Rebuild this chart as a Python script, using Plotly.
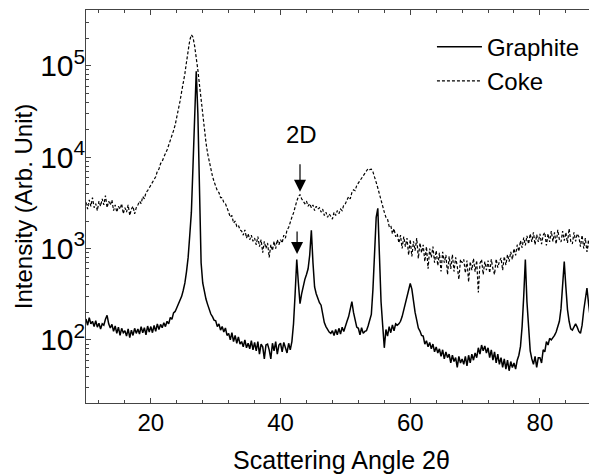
import numpy as np
import plotly.graph_objects as go

# Scan grid (degrees 2-theta), 0.25 deg step
angle_start = 10.0
angle_step = 0.25
n_points = 316
scan_angle = [round(angle_start + angle_step * i, 2) for i in range(n_points)]

# Intensities (arb. unit)
graphite = [
    170, 145, 175, 150, 160, 140, 162, 138,
    152, 132, 150, 145, 168, 186, 150, 135,
    148, 124, 142, 118, 138, 112, 134, 120,
    126, 110, 132, 106, 128, 112, 134, 118,
    132, 116, 140, 120, 136, 114, 142, 122,
    140, 120, 144, 124, 150, 130, 148, 136,
    154, 140, 160, 150, 176, 168, 198, 205,
    225, 245, 270, 300, 350, 420, 560, 800,
    1400, 2500, 8000, 35000, 87000, 30000, 4000, 700,
    420, 330, 280, 245, 215, 192, 180, 165,
    162, 140, 150, 128, 140, 122, 135, 112,
    118, 100, 120, 96, 112, 92, 108, 90,
    96, 84, 100, 82, 92, 80, 98, 78,
    94, 76, 96, 70, 90, 84, 62, 88,
    90, 78, 62, 92, 76, 96, 70, 88,
    92, 74, 94, 80, 72, 92, 78, 96,
    150, 320, 760, 420, 250, 320, 400, 460,
    520, 600, 850, 1580, 700, 380, 320, 280,
    255, 240, 185, 155, 140, 128, 122, 118,
    126, 112, 130, 114, 134, 116, 138, 124,
    145, 160, 180, 220, 262, 200, 160, 138,
    134, 114, 136, 118, 124, 126, 142, 160,
    190, 360, 970, 2200, 2750, 850, 260, 145,
    82, 130, 110, 140, 120, 146, 126, 150,
    145, 150, 160, 180, 210, 245, 290, 350,
    415, 360, 260, 200, 165, 135, 125, 112,
    110, 90, 98, 84, 94, 80, 90, 74,
    84, 72, 80, 66, 78, 62, 74, 64,
    70, 56, 68, 58, 64, 50, 66, 56,
    62, 54, 66, 52, 68, 56, 70, 60,
    72, 64, 82, 70, 88, 76, 86, 72,
    82, 64, 78, 60, 74, 56, 70, 54,
    64, 50, 62, 48, 60, 46, 58, 50,
    56, 48, 60, 68, 85, 140, 300, 760,
    260, 120, 76, 62, 54, 66, 50, 64,
    64, 56, 78, 74, 96, 88, 104, 100,
    105, 112, 122, 140, 160, 220, 360, 720,
    380, 215, 160, 132, 128, 140, 150, 138,
    124, 118, 145, 210, 290, 370, 250, 175,
    120, 90, 78, 82,
]

coke = [
    3200, 2700, 3400, 2900, 3600, 2800, 3100, 2600,
    3300, 2900, 3500, 3000, 3800, 2800, 3300, 3000,
    3400, 2600, 3000, 2500, 2900, 2700, 3100, 2400,
    2800, 2500, 3000, 2300, 2700, 2900, 2400, 2800,
    3000, 3300, 3100, 3700, 3500, 4100, 4300, 4600,
    5100, 5300, 5800, 6100, 7000, 7400, 8500, 9000,
    10000, 10800, 12000, 13500, 15000, 17000, 19500, 22500,
    27000, 33000, 41000, 52000, 64000, 82000, 110000, 145000,
    190000, 218000, 205000, 165000, 125000, 90000, 62000, 42000,
    30000, 21000, 14500, 11000, 8800, 7200, 6200, 5400,
    4900, 4300, 4100, 3600, 3600, 3200, 3100, 2700,
    2500, 2200, 2300, 1900, 2000, 1750, 1800, 1600,
    1550, 1400, 1600, 1300, 1450, 1250, 1400, 1200,
    1300, 1100, 1350, 1050, 1250, 900, 1200, 1000,
    1150, 800, 1100, 950, 1200, 1000, 1250, 1100,
    1250, 1150, 1400, 1300, 1600, 1700, 2000, 2200,
    2450, 2900, 3300, 3700, 3900, 3500, 3300, 3100,
    3300, 2900, 3100, 2800, 3000, 2600, 2900, 2700,
    2800, 2500, 2700, 2300, 2500, 2200, 2400, 2250,
    2100, 2500, 2300, 2600, 2400, 2700, 2600, 3000,
    3100, 3400, 3700, 3500, 4100, 4400, 4300, 4900,
    5200, 5600, 6000, 6400, 6600, 7200, 7500, 7300,
    7400, 6900, 6200, 5300, 4600, 3900, 3300, 2800,
    2500, 2200, 2100, 1750, 1800, 1450, 1650, 1350,
    1450, 1150, 1400, 1000, 1350, 1050, 1300, 850,
    1250, 820, 1200, 950, 1300, 780, 1150, 900,
    1100, 720, 1050, 600, 1000, 800, 1050, 700,
    950, 650, 900, 560, 920, 700, 850, 520,
    820, 600, 860, 560, 800, 640, 460, 760,
    700, 760, 540, 740, 430, 720, 580, 780,
    560, 740, 330, 690, 760, 520, 720, 580,
    740, 540, 760, 600, 520, 770, 620, 720,
    790, 580, 820, 660, 860, 720, 920, 760,
    1000, 840, 1100, 930, 1220, 1020, 1320, 1080,
    1380, 1120, 1450, 1180, 1500, 1100, 1420, 1180,
    1450, 1120, 1400, 1500, 1080, 1450, 1180, 1550,
    1200, 1500, 1120, 1600, 1250, 1180, 1550, 1220,
    1500, 1150, 1650, 1200, 1120, 1500, 1200, 1450,
    1350, 1050, 1400, 1000, 1300, 920, 1250, 850,
    1150, 880, 1200, 950,
]

series_names = ["Graphite", "Coke"]
# 2D (100) reflection markers: [angle, intensity at arrow tip]
marker_2d_coke = [43.0, 4170]
marker_2d_graphite = [42.55, 870]
label_2d = [43.3, 17500]

FONT = "Liberation Sans, Arial, Helvetica, sans-serif"

fig = go.Figure()
fig.add_trace(go.Scatter(
    x=scan_angle, y=graphite, name=series_names[0], mode="lines",
    line=dict(color="black", width=1.5),
))
fig.add_trace(go.Scatter(
    x=scan_angle, y=coke, name=series_names[1], mode="lines",
    line=dict(color="black", width=1.2, dash="3px,2px"),
))

fig.add_annotation(x=label_2d[0], y=np.log10(label_2d[1]), text="2D",
                   showarrow=False, font=dict(size=24, color="black", family=FONT))
for m, ay in ((marker_2d_coke, -29), (marker_2d_graphite, -24)):
    fig.add_annotation(x=m[0], y=np.log10(m[1]), text="", showarrow=True,
                       ax=0, ay=ay, arrowhead=2, arrowsize=2.0, arrowwidth=1.2,
                       arrowcolor="black", standoff=0)

axis_color = "#444"
fig.update_layout(
    width=589, height=466,
    margin=dict(l=78, r=0, t=2, b=71, pad=0),
    paper_bgcolor="white", plot_bgcolor="white",
    font=dict(family=FONT, size=24, color="black"),
    legend=dict(x=0.677, y=0.963, xanchor="left", yanchor="top",
                bgcolor="rgba(0,0,0,0)", font=dict(size=24), itemwidth=45),
    xaxis=dict(
        range=[10, 88.8], tickmode="linear", tick0=0, dtick=20,
        ticks="inside", ticklen=5, tickcolor=axis_color,
        showline=True, linecolor=axis_color, linewidth=1, mirror="ticks",
        showgrid=False, zeroline=False, automargin=False,
        minor=dict(tickmode="linear", tick0=0, dtick=4, ticks="inside", ticklen=3, tickcolor=axis_color),
        title=dict(text="Scattering Angle 2θ", font=dict(size=25), standoff=16),
        tickfont=dict(size=24), ticklabelstandoff=-2,
    ),
    yaxis=dict(
        type="log", range=[1.31, 5.61], dtick=1, exponentformat="power", showexponent="all",
        ticks="inside", ticklen=5, tickcolor=axis_color,
        showline=True, linecolor=axis_color, linewidth=1, mirror=False,
        showgrid=False, zeroline=False, automargin=False,
        minor=dict(dtick="D1", ticks="inside", ticklen=3, tickcolor=axis_color),
        title=dict(text="Intensity (Arb. Unit)", font=dict(size=24), standoff=0),
        tickfont=dict(size=24), ticklabelstandoff=-5,
    ),
)

fig.write_html("out.html")
